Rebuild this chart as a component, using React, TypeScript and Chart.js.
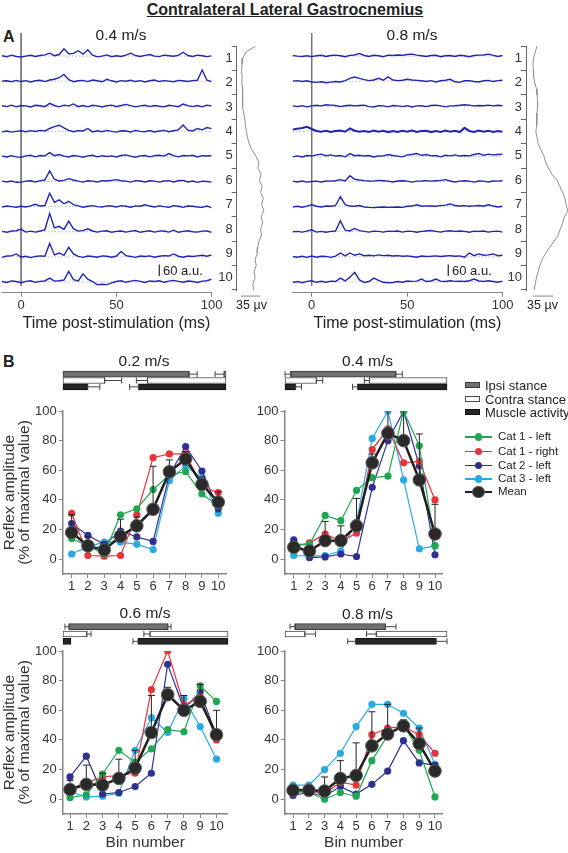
import React, { useEffect, useRef } from 'react';
import { Chart, registerables } from 'chart.js';

Chart.register(...registerables);

const FONT = '"Liberation Sans", Arial, Helvetica, sans-serif';
Chart.defaults.font.family = FONT;
Chart.defaults.color = '#333';

// ======================= DATA =======================
const TITLE = 'Contralateral Lateral Gastrocnemius';
const SPEEDS_A = ['0.4 m/s', '0.8 m/s'];
const ROW_LABELS = ['1', '2', '3', '4', '5', '6', '7', '8', '9', '10'];
const TIME_TICKS = [0, 50, 100];
const STIM_TIME_MS = 0;
const AU_PER_ROW = 131;
const SCALE_BAR_AU = 60;
const SCALE_BAR_UV = 35;
const X_TITLE_A = 'Time post-stimulation (ms)';

const TIME_MS = [-10, -7.5, -5, -2.5, 0, 2.5, 5, 7.5, 10, 12.5, 15, 17.5, 20, 22.5, 25, 27.5, 30, 32.5, 35, 37.5, 40, 42.5, 45, 47.5, 50, 52.5, 55, 57.5, 60, 62.5, 65, 67.5, 70, 72.5, 75, 77.5, 80, 82.5, 85, 87.5, 90, 92.5, 95, 97.5, 100];

// reflex traces (a.u.) at 0.4 m/s, bins 1..10
const TRACES_04 = [
  [2, -3, 5, -2, -5, 0, 4, -2, 3, 6, 15, 2, 8, 38, 12, 14, 28, 10, 33, 5, -4, 0, 6, -3, 2, -2, 5, 15, 3, -2, 4, 8, 0, -3, 5, 2, -1, 4, 20, 3, -2, 5, 2, -3, 1],
  [0, 2, -3, 4, -2, 3, -4, 2, 5, -2, 6, 10, 18, 35, 8, -3, 2, 4, -2, 6, 2, -3, 10, 2, -4, 3, 0, 5, -2, 3, -4, 2, 6, -2, 3, 0, -3, 4, 2, -2, 3, 5, 58, 5, -2],
  [3, -2, 6, -3, 4, 2, -4, 5, 3, -2, 15, 4, -3, 6, 2, 12, -2, 4, -3, 5, 2, -4, 3, 6, -2, 4, 10, 3, -3, 2, 5, -2, 4, 0, -3, 5, 2, -2, 12, 3, -2, 4, -3, 6, 2],
  [-3, 2, -4, 0, 3, -2, 4, -1, 5, 2, 15, 25, 32, 18, 5, -2, 4, 2, 15, -3, 3, -2, 5, 0, -4, 3, 2, -3, 5, 0, -2, 4, -3, 2, 5, -2, 3, 8, 33, 6, 2, 15, 8, 20, 14],
  [2, -3, 4, -2, -4, 3, 6, -2, 5, 3, 20, 4, 10, 2, -3, 5, 2, -4, 3, 6, -2, 4, 0, 3, -3, 5, 8, 2, -4, 3, 5, -2, 4, 6, 2, 15, 4, -2, 5, 3, 6, -3, 4, 2, 5],
  [2, -2, 3, -4, -3, 2, 4, -2, 5, 8, 55, 12, 3, 6, 15, 8, 2, -3, 4, 2, -2, 5, 3, 6, 10, 4, 2, -3, 5, 3, -2, 4, 2, -3, 3, 5, -2, 4, 6, -2, 3, -4, 2, 0, -3],
  [-2, 3, 0, -3, 2, -2, 4, 12, 3, 6, 70, 22, 35, 15, 28, 10, 4, -3, 2, 5, 0, -2, 4, 3, -2, 5, 2, -3, 4, 2, 10, 3, -2, 4, 0, -3, 5, 2, -4, 3, 2, -2, -4, 3, -5],
  [2, -3, 4, 5, 14, -2, 3, -2, 4, 10, 95, 20, 28, 12, 55, 15, 3, 6, 15, 4, -2, 3, 5, -3, 2, 4, -2, 3, 6, -3, 2, 5, -2, 3, 4, -2, 8, -3, 2, 5, 0, -2, 3, 4, -3],
  [-3, 4, 5, 15, -2, 3, -4, 2, 5, 3, 70, 10, 20, 8, 50, 15, 2, -3, 4, 2, -2, 5, 3, -2, 4, 28, 6, 2, -3, 4, 2, 5, -2, 3, 6, 4, 15, 3, -2, 4, 2, 5, 8, 3, 10],
  [2, -3, 5, 2, -4, 3, 6, -2, 3, 5, 20, 4, 6, 10, 55, 12, 5, 42, 14, 2, -15, -12, -14, -5, 2, 6, -2, 4, 8, 3, -3, 5, 2, 6, -2, 4, 8, 3, -2, 5, 2, -3, 4, 6, 15],
];

// reflex traces (a.u.) at 0.8 m/s, bins 1..10
const TRACES_08 = [
  [3, 0, -2, 2, -3, 2, 4, -2, 3, 5, 2, -3, 4, 6, 14, 3, -2, 4, 2, -3, 5, 3, 6, 4, 8, 10, 5, 2, -2, 3, 4, -3, 2, 3, -2, 4, 2, -3, 3, 5, 6, 10, 4, -2, 3],
  [0, 3, -2, 2, -4, -6, -3, -8, -5, -2, -4, 3, 15, 22, 15, 8, 3, 6, 15, 5, 22, 6, 3, 5, 10, 6, 4, 2, -2, 3, -4, 2, 5, 10, -3, -6, 2, 3, -2, -4, 2, 4, -2, 3, 5],
  [2, -2, 3, -3, 2, 5, 2, 8, 6, 4, -2, 3, 5, 2, 4, 6, -2, -4, 3, 2, -3, 4, 2, -2, 3, -4, 2, 3, -2, 4, 6, 2, -3, 2, 3, 5, 8, 6, 2, 4, 3, 6, 2, 5, 3],
  [10, 14, 18, 24, 12, 2, -2, 3, -3, 2, 4, -2, 15, 3, -2, 2, -3, 4, -2, 3, -4, 2, -3, 3, -2, 4, -3, 2, 3, -4, 2, -3, 4, -2, 3, -4, 18, 2, -3, 4, -2, 3, -3, 2, -2],
  [-2, 3, -3, 5, 2, 8, 12, 4, 8, 2, 5, -2, 15, 4, 6, 2, 5, -3, 2, 3, 10, 5, 2, -2, 8, 10, 15, 6, 10, 3, 5, -2, 6, 3, 8, 2, 5, 3, 10, 15, 6, 12, 8, 10, 12],
  [2, -2, 3, -3, 0, 2, -2, 3, 2, 4, 10, 3, 30, 12, 8, 5, 3, 2, 6, 4, 2, -2, 3, 4, 2, -3, 2, 3, 5, 2, 4, 6, 10, 3, -2, 2, 4, 2, -3, 3, 2, -2, 3, 2, 4],
  [-2, 2, -3, 3, 10, 2, -2, 3, 2, 6, 52, 10, 3, 2, 6, -2, -4, -5, -3, -2, -4, -3, -2, -4, 2, 3, 10, 2, 4, 3, 2, 5, 8, 14, 6, 3, 5, 2, 4, 6, 2, 10, 3, -2, 2],
  [0, 2, -2, 3, 10, -2, 2, -3, 2, 4, 57, 8, 4, 17, 6, 2, -2, 3, 2, -2, 3, 2, 4, -2, 3, 2, -3, 2, 4, 6, 2, -2, 3, 5, 2, 4, 2, -3, 3, 2, 4, -2, 2, 3, -2],
  [2, -2, 3, -3, 4, -2, 3, 2, -3, 4, 20, 5, 20, 8, 15, 6, 8, 5, 10, 6, 8, 4, 6, 3, 5, 2, -2, 4, 2, 3, 5, 2, 4, 6, 3, 5, -2, 20, 6, 15, 8, 10, 15, 6, 8],
  [-3, 2, -4, 3, 6, -2, 3, -2, 4, 2, 20, 5, 25, 50, 10, -3, 2, 20, 8, -2, -4, -3, 2, -2, 5, 3, 4, 15, 2, 5, 15, 4, 2, 6, 3, 4, 2, 6, 15, 5, 3, 6, 2, -2, 4],
];

// mean EMG profile along the cycle (µV)
const PROFILE_POS = [0, 0.25, 0.5, 0.75, 1, 1.25, 1.5, 1.75, 2, 2.25, 2.5, 2.75, 3, 3.25, 3.5, 3.75, 4, 4.25, 4.5, 4.75, 5, 5.25, 5.5, 5.75, 6, 6.25, 6.5, 6.75, 7, 7.25, 7.5, 7.75, 8, 8.25, 8.5, 8.75, 9, 9.25, 9.5, 9.75, 10];
const PROFILE_04 = [27, 9, 3, 2, 1, 2, 1.5, 3, 2.5, 3.5, 3, 5, 7, 8, 10, 12, 15, 20, 27, 33, 31, 37, 34, 39, 36, 41, 38, 42, 37, 40, 36, 38, 33, 31, 30, 26, 28, 24, 26, 22, 23];
const PROFILE_08 = [7, 4, 1, 0, 0.5, 1, 3, 6, 7, 8, 8, 7, 7, 6, 5, 7, 9, 14, 19, 22, 27, 33, 42, 47, 52, 56, 58, 61, 55, 52, 48, 44, 37, 29, 22, 16, 12, 9, 6, 4, 2];

// ---------- Panel B ----------
const BIN_NUMBERS = [1, 2, 3, 4, 5, 6, 7, 8, 9, 10];
const Y_TICKS = [0, 20, 40, 60, 80, 100];
const SERIES_NAMES = ['Cat 1 - left', 'Cat 1 - right', 'Cat 2 - left', 'Cat 3 - left'];
const SERIES_COLORS = ['#1fa852', '#e8333a', '#2e3192', '#2aaae2'];
const MEAN_NAME = 'Mean';
const Y_TITLE = ['Reflex amplitude', '(% of maximal value)'];
const X_TITLE_B = 'Bin number';
const PHASE_NAMES = ['Ipsi stance', 'Contra stance', 'Muscle activity'];
const PHASE_FILL = ['#707070', '#ffffff', '#262626'];
const PHASE_EDGE = ['#3a3a3a', '#4a4a4a', '#111111'];

// 0.2 m/s
const CAT1L_02 = [14, 9, 3.5, 30, 34, 47, 57, 59, 44, 36];
const CAT1R_02 = [31, 2.5, 2, 2.5, 30, 68.5, 71, 71, 49, 45];
const CAT2L_02 = [24, 16, 10, 19, 15, 12, 57, 76, 59.5, 34];
const CAT3L_02 = [3.5, 8.5, 11.5, 11.5, 10, 6.5, 53, 63, 55, 31];
const MEAN_02 = [18, 9, 6.3, 15.5, 22.5, 33.7, 59, 67.6, 50.5, 38.5];
const SD_02 = [12, 6, 4, 11.5, 6, 29, 8, 5, 5, 7];
// 0.4 m/s
const CAT1L_04 = [10, 10, 29.5, 26, 46.5, 55, 56, 100, 76.5, 9];
const CAT1R_04 = [8.5, 11, 17, 12, 17.5, 74, 88, 65, 66, 40];
const CAT2L_04 = [13, 1, 1.5, 3.5, 1.8, 48.5, 80, 100, 63, 3];
const CAT3L_04 = [2.5, 2, 2.5, 5.5, 25, 81.5, 100, 53.5, 7, 9];
const MEAN_04 = [8, 5.5, 12.5, 12.5, 22.5, 65, 85, 80, 53.5, 17];
const SD_04 = [4, 3, 13, 10, 18.5, 6, 24, 25, 31, 20];
// 0.6 m/s
const CAT1L_06 = [1, 3, 17, 33, 25, 34, 47, 45.5, 76.5, 66];
const CAT1R_06 = [7, 11, 15, 16, 17.5, 74, 100, 63.5, 69, 40];
const CAT2L_06 = [15, 29, 3.5, 4.5, 8.5, 17.5, 91, 61, 72.5, 43];
const CAT3L_06 = [5, 1.5, 2, 4, 33, 55, 45, 68, 49, 27];
const MEAN_06 = [6.5, 10, 9.5, 14, 21, 45, 70.5, 60, 66, 43.5];
const SD_06 = [6, 13, 8, 13, 12, 25, 5, 10, 11.5, 16.5];
// 0.8 m/s
const CAT1L_08 = [5, 4.5, 0, 4.5, 2, 26, 43, 50, 33, 1.5];
const CAT1R_08 = [6, 6, 3.5, 11.5, 9.5, 43.5, 48, 49, 43.5, 31];
const CAT2L_08 = [2.5, 4.5, 2, 8.5, 3.5, 10, 19, 39.5, 24.5, 23];
const CAT3L_08 = [9.5, 9.5, 20, 31, 49, 64, 64, 58, 48, 23.5];
const MEAN_08 = [6, 6, 5.5, 14, 16, 36, 44, 49.5, 37.5, 19];
const SD_08 = [2, 2, 9.5, 12, 22, 23, 20, 4, 10.5, 4];

// phase bars (% of cycle) and their error whiskers
const IPSI_02 = [[0, 77.4], [98.8, 100]];
const IPSI_ERR_02 = [[77.4, 82.3], [93.3, 98.8]];
const CONTRA_02 = [[0, 25.6], [51.8, 100]];
const CONTRA_ERR_02 = [[25.6, 36], [45, 51.8]];
const MUSCLE_02 = [[0, 15.2], [46.3, 100]];
const MUSCLE_ERR_02 = [[15.2, 22.6], [40.9, 46.3]];

const IPSI_04 = [[3.5, 68.5]];
const IPSI_ERR_04 = [[0, 3.5], [68.5, 72.4]];
const CONTRA_04 = [[0, 19.4], [52.1, 100]];
const CONTRA_ERR_04 = [[19.4, 23.3], [49, 52.1]];
const MUSCLE_04 = [[0, 6.6], [44.8, 100]];
const MUSCLE_ERR_04 = [[6.6, 10.2], [41.7, 44.8]];

const IPSI_06 = [[3.6, 63.6]];
const IPSI_ERR_06 = [[1.2, 3.6], [63.6, 65.5]];
const CONTRA_06 = [[0, 14.5], [52.7, 100]];
const CONTRA_ERR_06 = [[14.5, 17], [49, 52.7]];
const MUSCLE_06 = [[0, 4.8], [45.5, 100]];
const MUSCLE_ERR_06 = [[42.4, 45.5]];

const IPSI_08 = [[6.1, 62]];
const IPSI_ERR_08 = [[3.1, 6.1], [62, 68.5]];
const CONTRA_08 = [[0, 12.3], [56.3, 100]];
const CONTRA_ERR_08 = [[12.3, 18.8], [50.3, 56.3]];
const MUSCLE_08 = [[43.6, 93.3]];
const MUSCLE_ERR_08 = [[38.7, 43.6], [93.3, 100]];

// ======================= LAYOUT =======================
const TRACE_COLOR = '#2224b4';
const AXIS_GRAY = '#858585';

const A_PANELS = [
  {
    speed: SPEEDS_A[0], traces: TRACES_04, profile: PROFILE_04, thickRow: 0,
    trace: { left: 0, top: 25, w: 228, h: 310, padL: 2, padR: 16.3, padT: 8, xH: 42.3, ymin: 0.08, ymax: 10.43, barMs: 72.5, barRow: 9.76 },
    prof: { left: 205, top: 40, w: 70, h: 262, padT: 6, padB: 12, yW: 31.7, xmin: -7.9, xmax: 62.6, barPos: 10.25 },
    title: { x: 121, y: 35 }, xTitle: { x: 116.5, y: 323 }, uv: { x: 251.5, y: 305 }, au: { x: 163, y: 270 },
  },
  {
    speed: SPEEDS_A[1], traces: TRACES_08, profile: PROFILE_08, thickRow: 4,
    trace: { left: 280, top: 25, w: 240, h: 310, padL: 12.6, padR: 17.3, padT: 8, xH: 42.3, ymin: 0.08, ymax: 10.43, barMs: 71.5, barRow: 9.76 },
    prof: { left: 495, top: 40, w: 73, h: 262, padT: 6, padB: 12, yW: 31, xmin: -12.25, xmax: 61.3, barPos: 10.25 },
    title: { x: 412, y: 35 }, xTitle: { x: 407.5, y: 323 }, uv: { x: 542.5, y: 305 }, au: { x: 452, y: 270 },
  },
];

const B_PANELS = [
  {
    speed: '0.2 m/s', series: [CAT1L_02, CAT1R_02, CAT2L_02, CAT3L_02], mean: MEAN_02, sd: SD_02,
    phase: [[IPSI_02, IPSI_ERR_02], [CONTRA_02, CONTRA_ERR_02], [MUSCLE_02, MUSCLE_ERR_02]],
    chart: { left: 0, top: 395, w: 235, h: 215, padT: 16, padR: 8.3, yW: 62.7, xH: 36, xmin: 0.45, xmax: 10.52, yTitle: true, xTitle: false },
    bars: { left: 58, top: 366, w: 173, h: 29, padL: 4.7, padR: 4.3 },
    title: { x: 144, y: 361 },
  },
  {
    speed: '0.4 m/s', series: [CAT1L_04, CAT1R_04, CAT2L_04, CAT3L_04], mean: MEAN_04, sd: SD_04,
    phase: [[IPSI_04, IPSI_ERR_04], [CONTRA_04, CONTRA_ERR_04], [MUSCLE_04, MUSCLE_ERR_04]],
    chart: { left: 235, top: 395, w: 215, h: 215, padT: 16, padR: 2, yW: 49.5, xH: 36, xmin: 0.41, xmax: 10.49, yTitle: false, xTitle: false },
    bars: { left: 280, top: 366, w: 172, h: 29, padL: 4.5, padR: 4 },
    title: { x: 367.5, y: 361 },
  },
  {
    speed: '0.6 m/s', series: [CAT1L_06, CAT1R_06, CAT2L_06, CAT3L_06], mean: MEAN_06, sd: SD_06,
    phase: [[IPSI_06, IPSI_ERR_06], [CONTRA_06, CONTRA_ERR_06], [MUSCLE_06, MUSCLE_ERR_06]],
    chart: { left: 0, top: 635, w: 235, h: 218, padT: 16, padR: 7, yW: 62.7, xH: 39, xmin: 0.55, xmax: 10.69, yTitle: true, xTitle: true },
    bars: { left: 58, top: 618, w: 175, h: 32, padL: 4.7, padR: 4.7 },
    title: { x: 145, y: 613 },
  },
  {
    speed: '0.8 m/s', series: [CAT1L_08, CAT1R_08, CAT2L_08, CAT3L_08], mean: MEAN_08, sd: SD_08,
    phase: [[IPSI_08, IPSI_ERR_08], [CONTRA_08, CONTRA_ERR_08], [MUSCLE_08, MUSCLE_ERR_08]],
    chart: { left: 235, top: 635, w: 215, h: 218, padT: 16, padR: 2, yW: 49.7, xH: 39, xmin: 0.47, xmax: 10.49, yTitle: false, xTitle: true },
    bars: { left: 280, top: 618, w: 172, h: 32, padL: 4.7, padR: 4 },
    title: { x: 367.5, y: 614 },
  },
];

// ======================= CONFIGS =======================
const baseOptions = (padding: any) => ({
  animation: false,
  responsive: false,
  devicePixelRatio: 1,
  events: [],
  layout: { padding },
  plugins: { legend: { display: false }, tooltip: { enabled: false }, title: { display: false } },
  elements: { line: { tension: 0 } },
});

function traceConfig(p: any) {
  const lay = p.trace;
  const datasets: any[] = [];
  p.traces.forEach((vals: number[], r: number) => {
    const row = r + 1;
    datasets.push({
      data: [{ x: TIME_MS[0], y: row }, { x: TIME_MS[TIME_MS.length - 1], y: row }],
      borderColor: '#a8a8a8', borderWidth: 0.8, borderDash: [1.5, 2], pointRadius: 0, order: 2,
    });
    datasets.push({
      data: vals.map((v, i) => ({ x: TIME_MS[i], y: row - v / AU_PER_ROW })),
      borderColor: TRACE_COLOR, borderWidth: row === p.thickRow ? 2.1 : 1.4, pointRadius: 0, order: 1,
    });
  });
  datasets.push({
    data: [{ x: STIM_TIME_MS, y: lay.ymin }, { x: STIM_TIME_MS, y: ROW_LABELS.length + 0.15 }],
    borderColor: '#777', borderWidth: 1, pointRadius: 0, order: 3,
  });
  datasets.push({
    data: [{ x: lay.barMs, y: lay.barRow }, { x: lay.barMs, y: lay.barRow - SCALE_BAR_AU / AU_PER_ROW }],
    borderColor: '#333', borderWidth: 1.3, pointRadius: 0, order: 0,
  });
  return {
    type: 'line',
    data: { datasets },
    options: {
      ...baseOptions({ left: lay.padL, right: lay.padR, top: lay.padT, bottom: 0 }),
      scales: {
        x: {
          type: 'linear', min: TIME_MS[0], max: TIME_MS[TIME_MS.length - 1],
          afterBuildTicks: (s: any) => { s.ticks = TIME_TICKS.map((v) => ({ value: v })); },
          ticks: { font: { size: 13 }, color: '#333', padding: 0.5, autoSkip: false, maxRotation: 0 },
          grid: { drawOnChartArea: false, tickLength: 4, color: AXIS_GRAY },
          border: { color: AXIS_GRAY, width: 1 },
          afterFit: (s: any) => { s.height = lay.xH; s.paddingLeft = 0; s.paddingRight = 0; },
        },
        y: { type: 'linear', display: false, min: lay.ymin, max: lay.ymax, reverse: true },
      },
    },
  };
}

function profileConfig(p: any) {
  const lay = p.prof;
  return {
    type: 'line',
    data: {
      datasets: [
        { data: p.profile.map((v: number, i: number) => ({ x: v, y: PROFILE_POS[i] })), borderColor: '#8f8f8f', borderWidth: 1, pointRadius: 0 },
        { data: [{ x: 0, y: lay.barPos }, { x: SCALE_BAR_UV, y: lay.barPos }], borderColor: '#9a9a9a', borderWidth: 1.2, pointRadius: 0, clip: false },
      ],
    },
    options: {
      ...baseOptions({ left: 0, right: 0, top: lay.padT, bottom: lay.padB }),
      indexAxis: 'y',
      scales: {
        x: { type: 'linear', display: false, min: lay.xmin, max: lay.xmax },
        y: {
          type: 'linear', min: 0, max: ROW_LABELS.length, reverse: true, position: 'left',
          afterBuildTicks: (s: any) => { s.ticks = ROW_LABELS.map((_, i) => ({ value: i + 0.5 })); },
          ticks: { callback: (_v: any, i: number) => ROW_LABELS[i], font: { size: 13 }, color: '#333', padding: -1, autoSkip: false },
          grid: { offset: true, drawOnChartArea: false, tickLength: 5, color: '#666' },
          border: { color: '#666', width: 1 },
          afterFit: (s: any) => { s.width = lay.yW; s.paddingTop = 0; s.paddingBottom = 0; },
        },
      },
    },
  };
}

function lineConfig(p: any) {
  const c = p.chart;
  const datasets: any[] = [];
  datasets.push({
    label: MEAN_NAME,
    data: p.mean.map((v: number, i: number) => ({ x: BIN_NUMBERS[i], y: v })),
    borderColor: '#1e1e1e', borderWidth: 2.5, pointRadius: 6.3, pointBackgroundColor: '#2a2a2a',
    pointBorderColor: '#5a5a5a', pointBorderWidth: 1, order: 0,
  });
  const err: any[] = [];
  p.mean.forEach((m: number, i: number) => {
    err.push({ x: BIN_NUMBERS[i], y: m }, { x: BIN_NUMBERS[i], y: m + p.sd[i] }, { x: BIN_NUMBERS[i], y: null });
  });
  datasets.push({
    data: err, borderColor: '#222', borderWidth: 1, spanGaps: false, pointStyle: 'line',
    pointRadius: (ctx: any) => (ctx.dataIndex % 3 === 1 ? 3.5 : 0), pointBorderColor: '#222', pointBorderWidth: 1, order: 1,
  });
  p.series.forEach((vals: number[], k: number) => {
    datasets.push({
      label: SERIES_NAMES[k],
      data: vals.map((v, i) => ({ x: BIN_NUMBERS[i], y: v })),
      borderColor: SERIES_COLORS[k], backgroundColor: SERIES_COLORS[k], borderWidth: 1.2,
      pointRadius: 3.6, pointBorderWidth: 0, pointBackgroundColor: SERIES_COLORS[k], order: 2,
    });
  });
  return {
    type: 'line',
    data: { datasets },
    options: {
      ...baseOptions({ left: 0, right: c.padR, top: c.padT, bottom: 0 }),
      scales: {
        x: {
          type: 'linear', min: c.xmin, max: c.xmax,
          afterBuildTicks: (s: any) => { s.ticks = BIN_NUMBERS.map((v) => ({ value: v })); },
          ticks: { font: { size: 13 }, color: '#333', padding: 1, autoSkip: false, maxRotation: 0 },
          grid: { drawOnChartArea: false, tickLength: 4, color: AXIS_GRAY },
          border: { color: AXIS_GRAY, width: 1.5 },
          title: c.xTitle
            ? { display: true, text: X_TITLE_B, font: { size: 15.5 }, color: '#333', padding: { top: 0, bottom: 0.7 } }
            : { display: false },
          afterFit: (s: any) => { s.height = c.xH; s.paddingLeft = 0; s.paddingRight = 0; },
        },
        y: {
          type: 'linear', min: -10, max: 100,
          afterBuildTicks: (s: any) => { s.ticks = Y_TICKS.map((v) => ({ value: v })); },
          ticks: { font: { size: 13 }, color: '#333', padding: 2, autoSkip: false },
          grid: { drawOnChartArea: false, tickLength: 4, color: AXIS_GRAY },
          border: { color: AXIS_GRAY, width: 1.5 },
          title: c.yTitle
            ? { display: true, text: Y_TITLE, font: { size: 15.5, lineHeight: '15px' }, color: '#333', padding: { top: 2.5, bottom: 0 } }
            : { display: false },
          afterFit: (s: any) => { s.width = c.yW; s.paddingTop = 0; s.paddingBottom = 0; },
        },
      },
    },
  };
}

function barConfig(p: any) {
  const b = p.bars;
  const datasets: any[] = [];
  p.phase.forEach((pair: number[][][], r: number) => {
    const [segs, errs] = pair;
    datasets.push({
      type: 'bar',
      data: segs.map((s) => ({ x: s, y: PHASE_NAMES[r] })),
      backgroundColor: PHASE_FILL[r], borderColor: PHASE_EDGE[r], borderWidth: 1, borderSkipped: false,
      barThickness: 6, grouped: false, clip: false, order: 1,
    });
    errs.forEach((e) => {
      datasets.push({
        type: 'line',
        data: [{ x: e[0], y: PHASE_NAMES[r] }, { x: e[1], y: PHASE_NAMES[r] }],
        borderColor: '#444', borderWidth: 1, pointStyle: 'line', rotation: 90, pointRadius: 3,
        pointBorderColor: '#444', pointBorderWidth: 1, clip: false, order: 0,
      });
    });
  });
  return {
    type: 'bar',
    data: { labels: PHASE_NAMES, datasets },
    options: {
      ...baseOptions({ left: b.padL, right: b.padR, top: 4, bottom: 4 }),
      indexAxis: 'y',
      scales: {
        x: { type: 'linear', display: false, min: 0, max: 100 },
        y: { type: 'category', display: false, offset: true },
      },
    },
  };
}

// ======================= COMPONENTS =======================
function ChartCanvas({ box, make }: { box: { left: number; top: number; w: number; h: number }; make: () => any }) {
  const ref = useRef<HTMLCanvasElement | null>(null);
  useEffect(() => {
    if (!ref.current) return;
    const chart = new Chart(ref.current, make());
    return () => chart.destroy();
  }, []);
  return (
    <canvas
      ref={ref}
      width={box.w}
      height={box.h}
      style={{ position: 'absolute', left: box.left, top: box.top, width: box.w, height: box.h }}
    />
  );
}

function Txt({ x, y, size = 13, bold = false, anchor = 'middle', underline = false, children }: any) {
  return (
    <div
      style={{
        position: 'absolute', left: x, top: y,
        transform: `translate(${anchor === 'start' ? '0' : '-50%'}, -50%)`,
        fontSize: size, fontWeight: bold ? 700 : 400, fontFamily: FONT, whiteSpace: 'nowrap',
        lineHeight: 1, color: '#222', textDecoration: underline ? 'underline' : 'none',
      }}
    >
      {children}
    </div>
  );
}

function Legend() {
  const phaseY = [385, 398.5, 412];
  const seriesY = [437, 451.5, 465.5, 479, 492];
  const items = [
    ...SERIES_NAMES.map((n, k) => ({ name: n, color: SERIES_COLORS[k], lw: 1.2, r: 3.6 })),
    { name: MEAN_NAME, color: '#1e1e1e', lw: 2.5, r: 6.3 },
  ];
  return (
    <>
      {PHASE_NAMES.map((n, i) => (
        <React.Fragment key={n}>
          <div style={{ position: 'absolute', left: 465, top: phaseY[i] - 3, width: 15, height: 6, boxSizing: 'border-box', background: PHASE_FILL[i], border: `1px solid ${PHASE_EDGE[i]}` }} />
          <Txt x={485} y={phaseY[i]} size={13} anchor="start">{n}</Txt>
        </React.Fragment>
      ))}
      {items.map((it, i) => (
        <React.Fragment key={it.name}>
          <div style={{ position: 'absolute', left: 465, top: seriesY[i] - it.lw / 2, width: 27, height: it.lw, background: it.color }} />
          <div style={{ position: 'absolute', left: 478.5 - it.r, top: seriesY[i] - it.r, width: it.r * 2, height: it.r * 2, boxSizing: 'border-box', borderRadius: '50%', background: it.name === MEAN_NAME ? '#2a2a2a' : it.color, border: it.name === MEAN_NAME ? '1px solid #5a5a5a' : 'none' }} />
          <Txt x={498} y={seriesY[i]} size={11.5} anchor="start">{it.name}</Txt>
        </React.Fragment>
      ))}
    </>
  );
}

export default function App() {
  return (
    <div style={{ position: 'absolute', left: 0, top: 0, width: 568, height: 853, background: '#fff', overflow: 'hidden', fontFamily: FONT }}>
      <Txt x={285} y={10} size={16} bold underline>{TITLE}</Txt>
      <Txt x={3} y={37} size={16} bold anchor="start">A</Txt>
      <Txt x={3} y={362} size={16} bold anchor="start">B</Txt>

      {A_PANELS.map((p, i) => (
        <React.Fragment key={'a' + i}>
          <ChartCanvas box={p.trace} make={() => traceConfig(p)} />
          <ChartCanvas box={p.prof} make={() => profileConfig(p)} />
          <Txt x={p.title.x} y={p.title.y} size={15.5}>{p.speed}</Txt>
          <Txt x={p.xTitle.x} y={p.xTitle.y} size={16}>{X_TITLE_A}</Txt>
          <Txt x={p.uv.x} y={p.uv.y} size={12.5}>{SCALE_BAR_UV} µv</Txt>
          <Txt x={p.au.x} y={p.au.y} size={13} anchor="start">{SCALE_BAR_AU} a.u.</Txt>
        </React.Fragment>
      ))}

      {B_PANELS.map((p, i) => (
        <React.Fragment key={'b' + i}>
          <ChartCanvas box={p.chart} make={() => lineConfig(p)} />
          <ChartCanvas box={p.bars} make={() => barConfig(p)} />
          <Txt x={p.title.x} y={p.title.y} size={15.5}>{p.speed}</Txt>
        </React.Fragment>
      ))}
      <Legend />
    </div>
  );
}
